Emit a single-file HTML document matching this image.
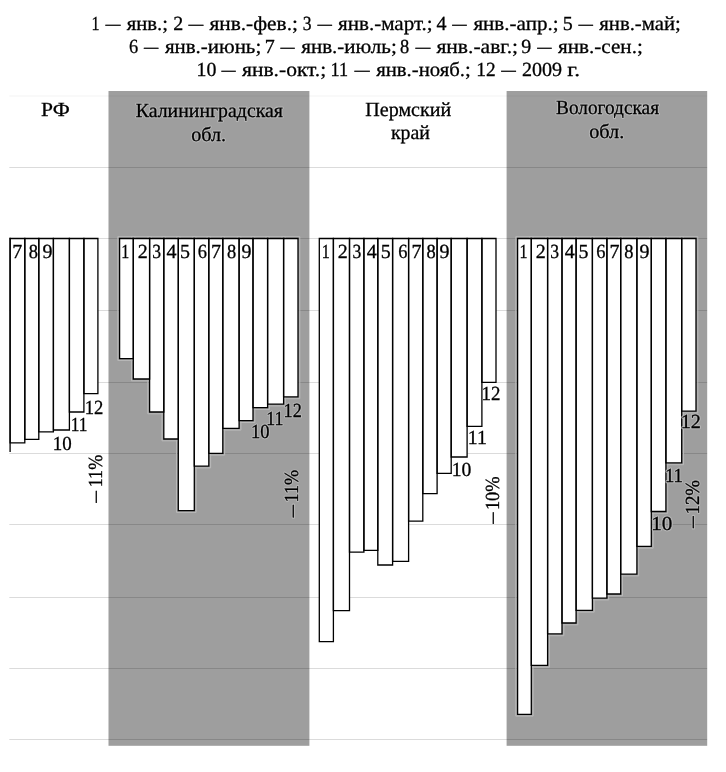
<!DOCTYPE html>
<html><head><meta charset="utf-8"><title>chart</title><style>
html,body{margin:0;padding:0;background:#fff;}
body{width:726px;height:772px;overflow:hidden;position:relative;}
svg{position:absolute;left:0;top:0;filter:grayscale(1);}
text.h{fill:#b6b6b6;stroke:#b6b6b6;stroke-width:2.4px;stroke-linejoin:round;}
text{font-family:"Liberation Serif","Times New Roman",serif;font-size:20px;fill:#000;text-rendering:geometricPrecision;stroke:#000;stroke-width:0.3px;}
</style></head><body>
<svg width="726" height="772" viewBox="0 0 726 772">
<rect x="108.5" y="91" width="200.9" height="654.8" fill="#9e9e9e"/>
<rect x="506.6" y="91" width="200.6" height="654.8" fill="#9e9e9e"/>
<line x1="9.3" y1="96.0" x2="707.2" y2="96.0" stroke="#000" stroke-opacity="0.05" stroke-width="1"/>
<line x1="9.3" y1="167.5" x2="707.2" y2="167.5" stroke="#000" stroke-opacity="0.14" stroke-width="1"/>
<line x1="9.3" y1="238.5" x2="707.2" y2="238.5" stroke="#000" stroke-opacity="0.14" stroke-width="1"/>
<line x1="9.3" y1="310.5" x2="707.2" y2="310.5" stroke="#000" stroke-opacity="0.14" stroke-width="1"/>
<line x1="9.3" y1="382.5" x2="707.2" y2="382.5" stroke="#000" stroke-opacity="0.14" stroke-width="1"/>
<line x1="9.3" y1="453.5" x2="707.2" y2="453.5" stroke="#000" stroke-opacity="0.14" stroke-width="1"/>
<line x1="9.3" y1="524.5" x2="707.2" y2="524.5" stroke="#000" stroke-opacity="0.14" stroke-width="1"/>
<line x1="9.3" y1="597.5" x2="707.2" y2="597.5" stroke="#000" stroke-opacity="0.14" stroke-width="1"/>
<line x1="9.3" y1="668.5" x2="707.2" y2="668.5" stroke="#000" stroke-opacity="0.14" stroke-width="1"/>
<line x1="9.3" y1="739.5" x2="707.2" y2="739.5" stroke="#000" stroke-opacity="0.14" stroke-width="1"/>
<path d="M117.80 360.40V236.70H135.10V360.40Z" fill="none" stroke="#bababa" stroke-width="1"/>
<path d="M131.50 380.80V236.70H151.40V380.80Z" fill="none" stroke="#bababa" stroke-width="1"/>
<path d="M147.80 413.80V236.70H165.60V413.80Z" fill="none" stroke="#bababa" stroke-width="1"/>
<path d="M162.00 440.80V236.70H180.10V440.80Z" fill="none" stroke="#bababa" stroke-width="1"/>
<path d="M176.50 512.40V236.70H196.10V512.40Z" fill="none" stroke="#bababa" stroke-width="1"/>
<path d="M192.50 467.90V236.70H210.60V467.90Z" fill="none" stroke="#bababa" stroke-width="1"/>
<path d="M207.00 455.10V236.70H224.60V455.10Z" fill="none" stroke="#bababa" stroke-width="1"/>
<path d="M221.00 430.10V236.70H240.90V430.10Z" fill="none" stroke="#bababa" stroke-width="1"/>
<path d="M237.30 422.50V236.70H254.80V422.50Z" fill="none" stroke="#bababa" stroke-width="1"/>
<path d="M251.20 409.40V236.70H269.40V409.40Z" fill="none" stroke="#bababa" stroke-width="1"/>
<path d="M265.80 405.90V236.70H285.40V405.90Z" fill="none" stroke="#bababa" stroke-width="1"/>
<path d="M281.80 398.70V236.70H299.80V398.70Z" fill="none" stroke="#bababa" stroke-width="1"/>
<path d="M515.80 716.10V236.70H533.10V716.10Z" fill="none" stroke="#bababa" stroke-width="1"/>
<path d="M529.50 667.20V236.70H549.40V667.20Z" fill="none" stroke="#bababa" stroke-width="1"/>
<path d="M545.80 635.70V236.70H563.80V635.70Z" fill="none" stroke="#bababa" stroke-width="1"/>
<path d="M560.20 624.80V236.70H577.90V624.80Z" fill="none" stroke="#bababa" stroke-width="1"/>
<path d="M574.30 612.10V236.70H594.20V612.10Z" fill="none" stroke="#bababa" stroke-width="1"/>
<path d="M590.60 599.90V236.70H608.70V599.90Z" fill="none" stroke="#bababa" stroke-width="1"/>
<path d="M605.10 595.80V236.70H622.50V595.80Z" fill="none" stroke="#bababa" stroke-width="1"/>
<path d="M618.90 575.90V236.70H638.70V575.90Z" fill="none" stroke="#bababa" stroke-width="1"/>
<path d="M635.10 548.20V236.70H653.10V548.20Z" fill="none" stroke="#bababa" stroke-width="1"/>
<path d="M649.50 513.30V236.70H667.70V513.30Z" fill="none" stroke="#bababa" stroke-width="1"/>
<path d="M664.10 464.70V236.70H683.50V464.70Z" fill="none" stroke="#bababa" stroke-width="1"/>
<path d="M679.90 412.90V236.70H697.80V412.90Z" fill="none" stroke="#bababa" stroke-width="1"/>
<rect x="10.1" y="238.5" width="14.70" height="204.30" fill="#fff"/>
<rect x="24.8" y="238.5" width="14.00" height="200.80" fill="#fff"/>
<rect x="38.8" y="238.5" width="14.60" height="193.40" fill="#fff"/>
<rect x="53.4" y="238.5" width="16.00" height="191.50" fill="#fff"/>
<rect x="69.4" y="238.5" width="14.50" height="173.50" fill="#fff"/>
<rect x="83.9" y="238.5" width="14.00" height="155.10" fill="#fff"/>
<rect x="119.6" y="238.5" width="13.70" height="120.10" fill="#fff"/>
<rect x="133.3" y="238.5" width="16.30" height="140.50" fill="#fff"/>
<rect x="149.6" y="238.5" width="14.20" height="173.50" fill="#fff"/>
<rect x="163.8" y="238.5" width="14.50" height="200.50" fill="#fff"/>
<rect x="178.3" y="238.5" width="16.00" height="272.10" fill="#fff"/>
<rect x="194.3" y="238.5" width="14.50" height="227.60" fill="#fff"/>
<rect x="208.8" y="238.5" width="14.00" height="214.80" fill="#fff"/>
<rect x="222.8" y="238.5" width="16.30" height="189.80" fill="#fff"/>
<rect x="239.1" y="238.5" width="13.90" height="182.20" fill="#fff"/>
<rect x="253" y="238.5" width="14.60" height="169.10" fill="#fff"/>
<rect x="267.6" y="238.5" width="16.00" height="165.60" fill="#fff"/>
<rect x="283.6" y="238.5" width="14.40" height="158.40" fill="#fff"/>
<rect x="319.3" y="238.5" width="14.10" height="403.20" fill="#fff"/>
<rect x="333.4" y="238.5" width="16.10" height="372.10" fill="#fff"/>
<rect x="349.5" y="238.5" width="14.40" height="313.70" fill="#fff"/>
<rect x="363.9" y="238.5" width="13.90" height="311.80" fill="#fff"/>
<rect x="377.8" y="238.5" width="14.80" height="326.50" fill="#fff"/>
<rect x="392.6" y="238.5" width="16.00" height="322.80" fill="#fff"/>
<rect x="408.6" y="238.5" width="14.20" height="282.60" fill="#fff"/>
<rect x="422.8" y="238.5" width="14.30" height="255.20" fill="#fff"/>
<rect x="437.1" y="238.5" width="14.10" height="234.90" fill="#fff"/>
<rect x="451.2" y="238.5" width="15.90" height="218.50" fill="#fff"/>
<rect x="467.1" y="238.5" width="14.80" height="187.80" fill="#fff"/>
<rect x="481.9" y="238.5" width="14.10" height="143.90" fill="#fff"/>
<rect x="517.6" y="238.5" width="13.70" height="475.80" fill="#fff"/>
<rect x="531.3" y="238.5" width="16.30" height="426.90" fill="#fff"/>
<rect x="547.6" y="238.5" width="14.40" height="395.40" fill="#fff"/>
<rect x="562" y="238.5" width="14.10" height="384.50" fill="#fff"/>
<rect x="576.1" y="238.5" width="16.30" height="371.80" fill="#fff"/>
<rect x="592.4" y="238.5" width="14.50" height="359.60" fill="#fff"/>
<rect x="606.9" y="238.5" width="13.80" height="355.50" fill="#fff"/>
<rect x="620.7" y="238.5" width="16.20" height="335.60" fill="#fff"/>
<rect x="636.9" y="238.5" width="14.40" height="307.90" fill="#fff"/>
<rect x="651.3" y="238.5" width="14.60" height="273.00" fill="#fff"/>
<rect x="665.9" y="238.5" width="15.80" height="224.40" fill="#fff"/>
<rect x="681.7" y="238.5" width="14.30" height="172.60" fill="#fff"/>
<path d="M10.1 442.79999999999995V238.5H24.8V442.79999999999995Z" fill="none" stroke="#000" stroke-width="1.3"/>
<path d="M24.8 439.29999999999995V238.5H38.8V439.29999999999995Z" fill="none" stroke="#000" stroke-width="1.3"/>
<path d="M38.8 431.9V238.5H53.4V431.9Z" fill="none" stroke="#000" stroke-width="1.3"/>
<path d="M53.4 430.0V238.5H69.4V430.0Z" fill="none" stroke="#000" stroke-width="1.3"/>
<path d="M69.4 412.0V238.5H83.9V412.0Z" fill="none" stroke="#000" stroke-width="1.3"/>
<path d="M83.9 393.59999999999997V238.5H97.9V393.59999999999997Z" fill="none" stroke="#000" stroke-width="1.3"/>
<path d="M119.6 358.59999999999997V238.5H133.3V358.59999999999997Z" fill="none" stroke="#000" stroke-width="1.3"/>
<path d="M133.3 379.0V238.5H149.6V379.0Z" fill="none" stroke="#000" stroke-width="1.3"/>
<path d="M149.6 412.0V238.5H163.8V412.0Z" fill="none" stroke="#000" stroke-width="1.3"/>
<path d="M163.8 439.0V238.5H178.3V439.0Z" fill="none" stroke="#000" stroke-width="1.3"/>
<path d="M178.3 510.59999999999997V238.5H194.3V510.59999999999997Z" fill="none" stroke="#000" stroke-width="1.3"/>
<path d="M194.3 466.09999999999997V238.5H208.8V466.09999999999997Z" fill="none" stroke="#000" stroke-width="1.3"/>
<path d="M208.8 453.29999999999995V238.5H222.8V453.29999999999995Z" fill="none" stroke="#000" stroke-width="1.3"/>
<path d="M222.8 428.29999999999995V238.5H239.1V428.29999999999995Z" fill="none" stroke="#000" stroke-width="1.3"/>
<path d="M239.1 420.7V238.5H253V420.7Z" fill="none" stroke="#000" stroke-width="1.3"/>
<path d="M253 407.59999999999997V238.5H267.6V407.59999999999997Z" fill="none" stroke="#000" stroke-width="1.3"/>
<path d="M267.6 404.09999999999997V238.5H283.6V404.09999999999997Z" fill="none" stroke="#000" stroke-width="1.3"/>
<path d="M283.6 396.9V238.5H298V396.9Z" fill="none" stroke="#000" stroke-width="1.3"/>
<path d="M319.3 641.6999999999999V238.5H333.4V641.6999999999999Z" fill="none" stroke="#000" stroke-width="1.3"/>
<path d="M333.4 610.6V238.5H349.5V610.6Z" fill="none" stroke="#000" stroke-width="1.3"/>
<path d="M349.5 552.1999999999999V238.5H363.9V552.1999999999999Z" fill="none" stroke="#000" stroke-width="1.3"/>
<path d="M363.9 550.3V238.5H377.8V550.3Z" fill="none" stroke="#000" stroke-width="1.3"/>
<path d="M377.8 565.0V238.5H392.6V565.0Z" fill="none" stroke="#000" stroke-width="1.3"/>
<path d="M392.6 561.3V238.5H408.6V561.3Z" fill="none" stroke="#000" stroke-width="1.3"/>
<path d="M408.6 521.1V238.5H422.8V521.1Z" fill="none" stroke="#000" stroke-width="1.3"/>
<path d="M422.8 493.7V238.5H437.1V493.7Z" fill="none" stroke="#000" stroke-width="1.3"/>
<path d="M437.1 473.4V238.5H451.2V473.4Z" fill="none" stroke="#000" stroke-width="1.3"/>
<path d="M451.2 457.0V238.5H467.1V457.0Z" fill="none" stroke="#000" stroke-width="1.3"/>
<path d="M467.1 426.29999999999995V238.5H481.9V426.29999999999995Z" fill="none" stroke="#000" stroke-width="1.3"/>
<path d="M481.9 382.4V238.5H496V382.4Z" fill="none" stroke="#000" stroke-width="1.3"/>
<path d="M517.6 714.3V238.5H531.3V714.3Z" fill="none" stroke="#000" stroke-width="1.3"/>
<path d="M531.3 665.4V238.5H547.6V665.4Z" fill="none" stroke="#000" stroke-width="1.3"/>
<path d="M547.6 633.9V238.5H562V633.9Z" fill="none" stroke="#000" stroke-width="1.3"/>
<path d="M562 623.0V238.5H576.1V623.0Z" fill="none" stroke="#000" stroke-width="1.3"/>
<path d="M576.1 610.3V238.5H592.4V610.3Z" fill="none" stroke="#000" stroke-width="1.3"/>
<path d="M592.4 598.1V238.5H606.9V598.1Z" fill="none" stroke="#000" stroke-width="1.3"/>
<path d="M606.9 594.0V238.5H620.7V594.0Z" fill="none" stroke="#000" stroke-width="1.3"/>
<path d="M620.7 574.1V238.5H636.9V574.1Z" fill="none" stroke="#000" stroke-width="1.3"/>
<path d="M636.9 546.4V238.5H651.3V546.4Z" fill="none" stroke="#000" stroke-width="1.3"/>
<path d="M651.3 511.5V238.5H665.9V511.5Z" fill="none" stroke="#000" stroke-width="1.3"/>
<path d="M665.9 462.9V238.5H681.7V462.9Z" fill="none" stroke="#000" stroke-width="1.3"/>
<path d="M681.7 411.09999999999997V238.5H696V411.09999999999997Z" fill="none" stroke="#000" stroke-width="1.3"/>
<path d="M9.4 238.5H10.1V451.9" fill="none" stroke="#000" stroke-width="1.3"/>
<text x="12.18" y="258.0">7</text>
<text transform="translate(28.65 258.0) scale(0.92 1)">8</text>
<text x="42.48" y="258.0">9</text>
<text transform="translate(121.20 258.0) scale(0.8 1)">1</text>
<text x="137.68" y="258.0">2</text>
<text transform="translate(152.29 258.0) scale(0.88 1)">3</text>
<text x="166.55" y="258.0">4</text>
<text x="180.07" y="258.0">5</text>
<text transform="translate(197.63 258.0) scale(0.92 1)">6</text>
<text x="210.97" y="258.0">7</text>
<text transform="translate(227.10 258.0) scale(0.92 1)">8</text>
<text x="241.47" y="258.0">9</text>
<text transform="translate(321.70 258.0) scale(0.8 1)">1</text>
<text x="337.77" y="258.0">2</text>
<text transform="translate(352.39 258.0) scale(0.88 1)">3</text>
<text x="366.75" y="258.0">4</text>
<text x="380.73" y="258.0">5</text>
<text transform="translate(398.24 258.0) scale(0.92 1)">6</text>
<text x="411.43" y="258.0">7</text>
<text transform="translate(426.45 258.0) scale(0.92 1)">8</text>
<text x="439.62" y="258.0">9</text>
<text transform="translate(519.45 258.0) scale(0.8 1)">1</text>
<text x="535.67" y="258.0">2</text>
<text transform="translate(550.29 258.0) scale(0.88 1)">3</text>
<text x="564.70" y="258.0">4</text>
<text x="578.62" y="258.0">5</text>
<text transform="translate(596.18 258.0) scale(0.92 1)">6</text>
<text x="609.38" y="258.0">7</text>
<text transform="translate(624.20 258.0) scale(0.92 1)">8</text>
<text x="639.62" y="258.0">9</text>
<text transform="translate(91.55 30.2) scale(0.8 1)">1</text>
<text transform="translate(105.59 30.2) scale(0.7512 1)">—</text>
<text transform="translate(126.70 30.2) scale(1.0338 1)">янв.;</text>
<text x="173.28" y="30.2">2</text>
<text transform="translate(188.49 30.2) scale(0.7415 1)">—</text>
<text transform="translate(209.40 30.2) scale(1.0687 1)">янв.-фев.;</text>
<text transform="translate(302.69 30.2) scale(0.88 1)">3</text>
<text transform="translate(317.58 30.2) scale(0.7220 1)">—</text>
<text transform="translate(338.00 30.2) scale(1.0531 1)">янв.-март.;</text>
<text x="436.55" y="30.2">4</text>
<text transform="translate(452.28 30.2) scale(0.7220 1)">—</text>
<text transform="translate(473.40 30.2) scale(1.0528 1)">янв.-апр.;</text>
<text x="562.83" y="30.2">5</text>
<text transform="translate(578.38 30.2) scale(0.7220 1)">—</text>
<text transform="translate(599.30 30.2) scale(1.0356 1)">янв.-май;</text>
<text transform="translate(129.09 53.2) scale(0.92 1)">6</text>
<text transform="translate(143.98 53.2) scale(0.7171 1)">—</text>
<text transform="translate(164.90 53.2) scale(1.0464 1)">янв.-июнь;</text>
<text x="264.73" y="53.2">7</text>
<text transform="translate(280.58 53.2) scale(0.7073 1)">—</text>
<text transform="translate(301.20 53.2) scale(1.0521 1)">янв.-июль;</text>
<text transform="translate(399.95 53.2) scale(0.92 1)">8</text>
<text transform="translate(415.49 53.2) scale(0.7463 1)">—</text>
<text transform="translate(436.40 53.2) scale(1.0774 1)">янв.-авг.;</text>
<text x="521.33" y="53.2">9</text>
<text transform="translate(537.28 53.2) scale(0.7171 1)">—</text>
<text transform="translate(558.10 53.2) scale(1.0552 1)">янв.-сен.;</text>
<text transform="translate(196.46 76.2) scale(0.9943 1)">10</text>
<text transform="translate(221.48 76.2) scale(0.7073 1)">—</text>
<text transform="translate(242.00 76.2) scale(1.0762 1)">янв.-окт.;</text>
<text transform="translate(330.51 76.2) scale(0.9108 1)">11</text>
<text transform="translate(354.59 76.2) scale(0.7610 1)">—</text>
<text transform="translate(376.20 76.2) scale(1.0362 1)">янв.-нояб.;</text>
<text transform="translate(476.21 76.2) scale(0.9681 1)">12</text>
<text transform="translate(501.18 76.2) scale(0.7317 1)">—</text>
<text transform="translate(521.95 76.2) scale(1.0052 1)">2009</text>
<text transform="translate(567.31 76.2) scale(1.1684 1)">г.</text>
<text transform="translate(41.06 115.6) scale(1.0772 1)">РФ</text>
<text class="h" transform="translate(135.80 116.8) scale(0.9902 1)">Калининградская</text><text transform="translate(135.80 116.8) scale(0.9902 1)">Калининградская</text>
<text class="h" transform="translate(191.24 140.9) scale(1.0076 1)">обл.</text><text transform="translate(191.24 140.9) scale(1.0076 1)">обл.</text>
<text transform="translate(365.30 115.6) scale(1.0018 1)">Пермский</text>
<text transform="translate(390.95 139.1) scale(0.9935 1)">край</text>
<text class="h" transform="translate(556.02 114.2) scale(0.9651 1)">Вологодская</text><text transform="translate(556.02 114.2) scale(0.9651 1)">Вологодская</text>
<text class="h" transform="translate(589.14 137.6) scale(1.0137 1)">обл.</text><text transform="translate(589.14 137.6) scale(1.0137 1)">обл.</text>
<text transform="translate(52.84 450.2) scale(0.9486 1)">10</text>
<text transform="translate(70.78 431.3) scale(0.8677 1)">11</text>
<text transform="translate(84.77 414.0) scale(0.9333 1)">12</text>
<text class="h" transform="translate(250.88 437.8) scale(0.9257 1)">10</text><text transform="translate(250.88 437.8) scale(0.9257 1)">10</text>
<text class="h" transform="translate(266.24 425.4) scale(0.8923 1)">11</text><text transform="translate(266.24 425.4) scale(0.8923 1)">11</text>
<text class="h" transform="translate(283.61 417.1) scale(0.9101 1)">12</text><text transform="translate(283.61 417.1) scale(0.9101 1)">12</text>
<text transform="translate(451.68 475.5) scale(0.9829 1)">10</text>
<text transform="translate(467.78 443.9) scale(0.9846 1)">11</text>
<text transform="translate(481.45 400.0) scale(0.9449 1)">12</text>
<text class="h" transform="translate(651.25 529.6) scale(1.0571 1)">10</text><text transform="translate(651.25 529.6) scale(1.0571 1)">10</text>
<text class="h" transform="translate(664.96 481.5) scale(0.9354 1)">11</text><text transform="translate(664.96 481.5) scale(0.9354 1)">11</text>
<text class="h" transform="translate(680.63 428.4) scale(1.0087 1)">12</text><text transform="translate(680.63 428.4) scale(1.0087 1)">12</text>
<text transform="translate(103.33 504.06) rotate(-90) scale(1.2632 1)">−</text>
<text transform="translate(101.9 487.28) rotate(-90) scale(0.9045 1)">11%</text>
<text class="h" transform="translate(299.82 518.52) rotate(-90) scale(1.3158 1)">−</text><text transform="translate(299.82 518.52) rotate(-90) scale(1.3158 1)">−</text>
<text class="h" transform="translate(298.4 502.49) rotate(-90) scale(0.9075 1)">11%</text><text transform="translate(298.4 502.49) rotate(-90) scale(0.9075 1)">11%</text>
<text transform="translate(499.82 524.93) rotate(-90) scale(1.2316 1)">−</text>
<text transform="translate(498.6 510.11) rotate(-90) scale(0.9197 1)">10%</text>
<text class="h" transform="translate(700.02 529.26) rotate(-90) scale(1.2632 1)">−</text><text transform="translate(700.02 529.26) rotate(-90) scale(1.2632 1)">−</text>
<text class="h" transform="translate(698.9 514.55) rotate(-90) scale(0.9431 1)">12%</text><text transform="translate(698.9 514.55) rotate(-90) scale(0.9431 1)">12%</text>
</svg></body></html>
